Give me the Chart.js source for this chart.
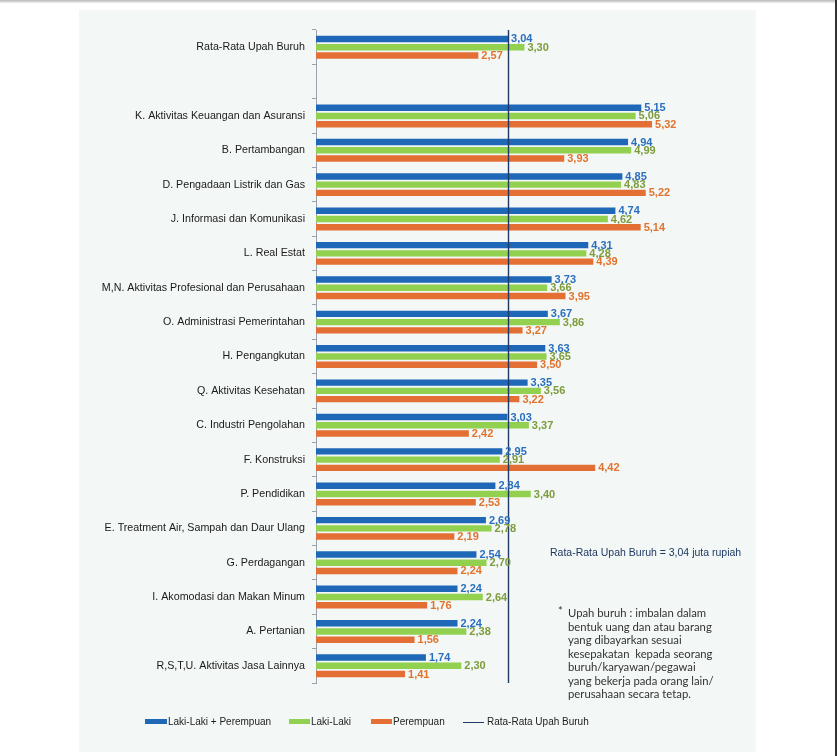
<!DOCTYPE html>
<html>
<head>
<meta charset="utf-8">
<script src="https://cdn.jsdelivr.net/npm/chart.js@4/dist/chart.umd.min.js"></script>
<style>
  html, body { margin:0; padding:0; background:#fff; width:837px; height:756px; overflow:hidden; }
  #topline { position:absolute; left:0; top:0; width:837px; height:3px; background:linear-gradient(#b8b8b8,#f0f0f0); }
  #rightline { position:absolute; left:835px; top:0; width:2px; height:756px; background:#333; }
  #panel { position:absolute; left:79px; top:10px; width:677px; height:742px; background:#f3f7f5; }
  canvas { position:absolute; left:0; top:0; }
  .note1 { position:absolute; left:550px; top:546px; font:10.5px 'Liberation Sans', Arial, sans-serif; color:#1f3864; white-space:nowrap; }
  .note2 { position:absolute; left:568px; top:606px; font:11.3px Lato, 'Open Sans', sans-serif; color:#333; line-height:13.5px; white-space:nowrap; }
  .star { position:absolute; left:558px; top:604px; font:11px Lato, sans-serif; color:#333; }
</style>
</head>
<body>
<div id="topline"></div>
<div id="panel"></div>
<div id="rightline"></div>
<canvas id="c" width="837" height="756"></canvas>
<div class="note1">Rata-Rata Upah Buruh = 3,04 juta rupiah</div>
<div class="star">*</div>
<div class="note2">Upah buruh : imbalan dalam<br>bentuk uang dan atau barang<br>yang dibayarkan sesuai<br>kesepakatan&nbsp; kepada seorang<br>buruh/karyawan/pegawai<br>yang bekerja pada orang lain/<br>perusahaan secara tetap.</div>
<script>
const categories = [
  "Rata-Rata Upah Buruh",
  "",
  "K. Aktivitas Keuangan dan Asuransi",
  "B. Pertambangan",
  "D. Pengadaan Listrik dan Gas",
  "J. Informasi dan Komunikasi",
  "L. Real Estat",
  "M,N. Aktivitas Profesional dan Perusahaan",
  "O. Administrasi Pemerintahan",
  "H. Pengangkutan",
  "Q. Aktivitas Kesehatan",
  "C. Industri Pengolahan",
  "F. Konstruksi",
  "P. Pendidikan",
  "E. Treatment Air, Sampah dan Daur Ulang",
  "G. Perdagangan",
  "I. Akomodasi dan Makan Minum",
  "A. Pertanian",
  "R,S,T,U. Aktivitas Jasa Lainnya"
];
const totalValues  = [3.04, null, 5.15, 4.94, 4.85, 4.74, 4.31, 3.73, 3.67, 3.63, 3.35, 3.03, 2.95, 2.84, 2.69, 2.54, 2.24, 2.24, 1.74];
const maleValues   = [3.30, null, 5.06, 4.99, 4.83, 4.62, 4.28, 3.66, 3.86, 3.65, 3.56, 3.37, 2.91, 3.40, 2.78, 2.70, 2.64, 2.38, 2.30];
const femaleValues = [2.57, null, 5.32, 3.93, 5.22, 5.14, 4.39, 3.95, 3.27, 3.50, 3.22, 2.42, 4.42, 2.53, 2.19, 2.24, 1.76, 1.56, 1.41];
const averageWage = 3.04;
const seriesNames = ["Laki-Laki + Perempuan", "Laki-Laki", "Perempuan", "Rata-Rata Upah Buruh"];

const barColors   = ['#1f68b8', '#92d050', '#e46f34'];
const labelColors = ['#2a6fbf', '#7d9c3c', '#e2732f'];
const lineColor   = '#1f3864';
const FONT = "'Liberation Sans', Arial, sans-serif";

const avgLinePlugin = {
  id: 'avgLine',
  afterDatasetsDraw(chart) {
    const {ctx, chartArea, scales} = chart;
    const x = Math.round(scales.x.getPixelForValue(averageWage)) + 0.5;
    ctx.save();
    ctx.strokeStyle = lineColor;
    ctx.lineWidth = 1.4;
    ctx.beginPath();
    ctx.moveTo(x, chartArea.top);
    ctx.lineTo(x, chartArea.bottom);
    ctx.stroke();
    ctx.restore();
  }
};

const valueLabelPlugin = {
  id: 'valueLabels',
  afterDatasetsDraw(chart) {
    const {ctx} = chart;
    ctx.save();
    ctx.font = 'bold 11px ' + FONT;
    ctx.textBaseline = 'middle';
    ctx.textAlign = 'left';
    chart.data.datasets.forEach((ds, di) => {
      const meta = chart.getDatasetMeta(di);
      meta.data.forEach((bar, i) => {
        const v = ds.data[i];
        if (v === null || v === undefined) return;
        ctx.fillStyle = labelColors[di];
        ctx.fillText(v.toFixed(2).replace('.', ','), bar.x + 3, bar.y + 0.5);
      });
    });
    ctx.restore();
  }
};

const legendPlugin = {
  id: 'customLegend',
  afterDraw(chart) {
    const {ctx} = chart;
    const y = 722;
    const items = [
      {x: 145, w: 22, type: 'box', color: barColors[0], text: seriesNames[0]},
      {x: 289, w: 21, type: 'box', color: barColors[1], text: seriesNames[1]},
      {x: 371, w: 21, type: 'box', color: barColors[2], text: seriesNames[2]},
      {x: 463, w: 21, type: 'line', color: lineColor, text: seriesNames[3]}
    ];
    ctx.save();
    ctx.font = '10px ' + FONT;
    ctx.textBaseline = 'middle';
    items.forEach(it => {
      if (it.type === 'box') {
        ctx.fillStyle = it.color;
        ctx.fillRect(it.x, y - 3, it.w, 5);
      } else {
        ctx.strokeStyle = it.color;
        ctx.lineWidth = 1;
        ctx.beginPath();
        ctx.moveTo(it.x, y + 0.5);
        ctx.lineTo(it.x + it.w, y + 0.5);
        ctx.stroke();
      }
      ctx.fillStyle = '#222';
      ctx.fillText(it.text, it.x + it.w + (it.type === 'line' ? 3 : 1), y);
    });
    ctx.restore();
  }
};

new Chart(document.getElementById('c'), {
  type: 'bar',
  data: {
    labels: categories,
    datasets: [
      {label: seriesNames[0], data: totalValues,  backgroundColor: barColors[0]},
      {label: seriesNames[1], data: maleValues,   backgroundColor: barColors[1]},
      {label: seriesNames[2], data: femaleValues, backgroundColor: barColors[2]}
    ]
  },
  options: {
    indexAxis: 'y',
    responsive: false,
    animation: false,
    categoryPercentage: 0.72,
    barPercentage: 0.78,
    layout: {padding: {left: 0, top: 30, right: 837 - 695, bottom: 756 - 683}},
    plugins: {legend: {display: false}, tooltip: {enabled: false}},
    scales: {
      x: {display: false, min: 0, max: 6},
      y: {
        afterFit(scale) { scale.width = 316; },
        grid: {offset: true, drawOnChartArea: false, tickLength: 4, color: '#9aa3ab'},
        border: {color: '#9aa3ab', width: 1},
        ticks: {font: {family: FONT, size: 10.7}, color: '#1a1a1a', padding: 7, autoSkip: false}
      }
    }
  },
  plugins: [avgLinePlugin, valueLabelPlugin, legendPlugin]
});
</script>
</body>
</html>
